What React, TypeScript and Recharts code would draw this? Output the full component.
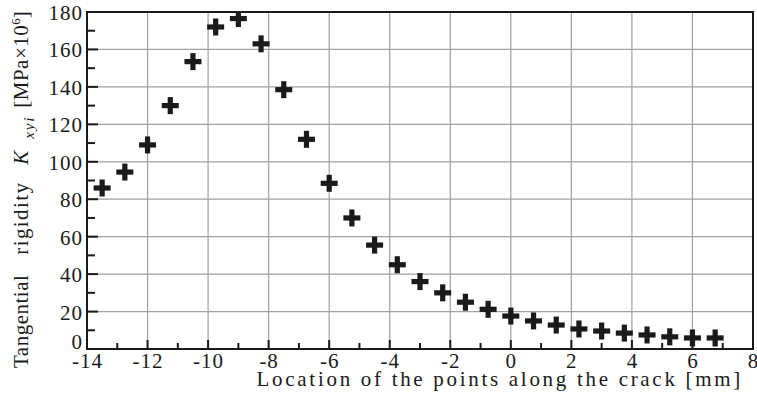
import React from 'react';
import { ScatterChart, Scatter, XAxis, YAxis, CartesianGrid, ReferenceArea, Label } from 'recharts';

const positions = [-13.5, -12.75, -12, -11.25, -10.5, -9.75, -9, -8.25, -7.5, -6.75, -6, -5.25, -4.5, -3.75, -3, -2.25, -1.5, -0.75, 0, 0.75, 1.5, 2.25, 3, 3.75, 4.5, 5.25, 6, 6.75];
const rigidity = [86, 94.5, 109, 130, 153.5, 172, 176.5, 163, 138.5, 112, 88.5, 70, 55.5, 45, 36, 30, 25, 21.2, 17.6, 15, 12.8, 10.7, 9.6, 8.5, 7.5, 6.5, 5.9, 5.9];
const xTicks = [-14, -13, -12, -11, -10, -9, -8, -7, -6, -5, -4, -3, -2, -1, 0, 1, 2, 3, 4, 5, 6, 7, 8];
const yTicks = [0, 10, 20, 30, 40, 50, 60, 70, 80, 90, 100, 110, 120, 130, 140, 150, 160, 170, 180];
const xGrid = [-12, -10, -8, -6, -4, -2, 0, 2, 4, 6];
const yGrid = [20, 40, 60, 80, 100, 120, 140, 160];

const data = positions.map((x, i) => ({ x, y: rigidity[i] }));

const INK = '#1a1a1a';
const textStyle = { fontFamily: '"Liberation Serif"' };

const XTick = (props: any) => {
  const { x, y, payload } = props;
  const v = payload.value;
  const major = v % 2 === 0;
  return (
    <g>
      {v !== -14 && v !== 8 && (
        <line x1={x} x2={x} y1={y} y2={y - (major ? 9 : 6)} stroke={INK} strokeWidth={2} />
      )}
      {major && (
        <text x={x + 0.5} y={y + 19} textAnchor="middle" style={textStyle} fontSize={21} letterSpacing={1} fill={INK}>
          {v}
        </text>
      )}
    </g>
  );
};

const YTick = (props: any) => {
  const { x, y, payload } = props;
  const v = payload.value;
  const major = v % 20 === 0;
  return (
    <g>
      {v !== 0 && v !== 180 && (
        <line x1={x} x2={x + (major ? 11 : 8)} y1={y} y2={y} stroke={INK} strokeWidth={2} />
      )}
      {major && (
        <text x={x - 4} y={v === 0 ? y : y + 8} textAnchor="end" style={textStyle} fontSize={21} letterSpacing={1} fill={INK}>
          {v}
        </text>
      )}
    </g>
  );
};

const PlusMarker = (props: any) => {
  const { cx, cy } = props;
  const h = 8.5;
  const t = 2.6;
  return (
    <g fill={INK}>
      <rect x={cx - h} y={cy - t} width={2 * h} height={2 * t} />
      <rect x={cx - t} y={cy - h} width={2 * t} height={2 * h} />
    </g>
  );
};

const YLabel = (props: any) => {
  const vb = props.viewBox;
  const bx = vb.x + 28;
  const by = vb.y + vb.height + 19;
  return (
    <text
      x={bx}
      y={by}
      transform={`rotate(-90 ${bx} ${by})`}
      textAnchor="start"
      style={textStyle}
      fontSize={21}
      fill={INK}
    >
      <tspan letterSpacing={0.5}>Tangential</tspan>
      <tspan dx={20} letterSpacing={1.4}>rigidity</tspan>
      <tspan dx={17} fontStyle="italic">K</tspan>
      <tspan dx={12} fontStyle="italic" fontSize={15} letterSpacing={1.8} dy={6}>xyi</tspan>
      <tspan dx={8} dy={-6} letterSpacing={0.5}>[MPa×10</tspan>
      <tspan fontSize={13} dy={-8}>6</tspan>
      <tspan dy={8}>]</tspan>
    </text>
  );
};

const XLabel = (props: any) => {
  const vb = props.viewBox;
  return (
    <text
      x={vb.x + vb.width - 10}
      y={vb.y + 37}
      textAnchor="end"
      style={textStyle}
      fontSize={21}
      fill={INK}
      letterSpacing={2.7}
    >
      Location of the points along the crack [mm]
    </text>
  );
};

export default function App() {
  return (
    <div style={{ position: 'absolute', left: 0, top: 0, width: 757, height: 401, background: '#fff', fontFamily: '"Liberation Serif"' }}>
      <ScatterChart width={757} height={401} margin={{ top: 12, right: 4, left: 0, bottom: 0 }}>
        <CartesianGrid
          horizontalValues={yGrid}
          verticalValues={xGrid}
          stroke="#a0a0a0"
          strokeWidth={1.2}
        />
        <XAxis
          type="number"
          dataKey="x"
          domain={[-14, 8]}
          ticks={xTicks}
          interval={0}
          height={52}
          tickSize={0}
          tickMargin={0}
          tickLine={false}
          axisLine={{ stroke: INK, strokeWidth: 2 }}
          tick={<XTick />}
          allowDataOverflow
        >
          <Label content={<XLabel />} />
        </XAxis>
        <YAxis
          type="number"
          dataKey="y"
          domain={[0, 180]}
          ticks={yTicks}
          interval={0}
          width={87}
          tickSize={0}
          tickMargin={0}
          tickLine={false}
          axisLine={{ stroke: INK, strokeWidth: 2 }}
          tick={<YTick />}
          allowDataOverflow
        >
          <Label content={<YLabel />} />
        </YAxis>
        <ReferenceArea x1={-14} x2={8} y1={0} y2={180} fill="none" stroke={INK} strokeWidth={2} fillOpacity={0} />
        <Scatter data={data} shape={<PlusMarker />} isAnimationActive={false} />
      </ScatterChart>
    </div>
  );
}
